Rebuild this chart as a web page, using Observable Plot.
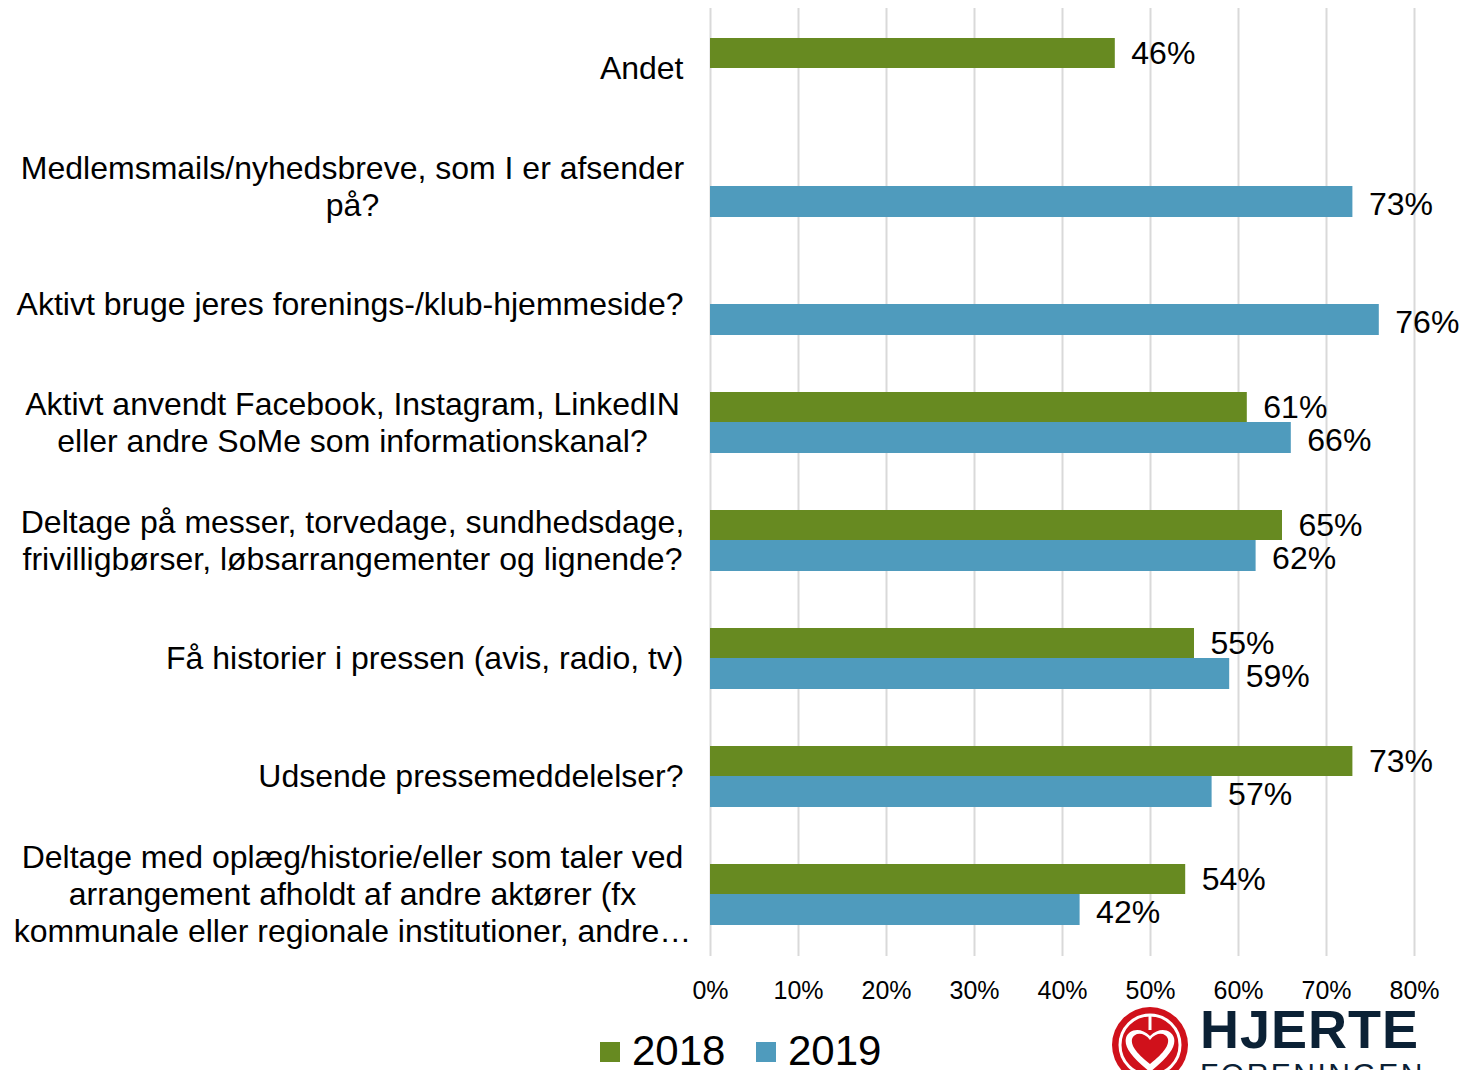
<!DOCTYPE html>
<html>
<head>
<meta charset="utf-8">
<script src="https://cdn.jsdelivr.net/npm/d3@7"></script>
<script src="https://cdn.jsdelivr.net/npm/@observablehq/plot@0.6"></script>
<style>
  html, body { margin: 0; padding: 0; background: #fff; }
  #wrap { position: relative; width: 1481px; height: 1070px; overflow: hidden; font-family: "Liberation Sans", Arial, sans-serif; }
  #legend { position: absolute; left: 0; top: 1020px; width: 1000px; height: 50px; }
  .sw { position: absolute; width: 20px; height: 20px; top: 22px; }
  .lt { position: absolute; top: 14px; font-size: 42px; line-height: 34px; color: #000; }
  #logo { position: absolute; left: 1100px; top: 1000px; }
</style>
</head>
<body>
<div id="wrap">
  <div id="chart"></div>
  <div id="legend"></div>
  <div id="logo"></div>
</div>
<script>
const categories = [
  "Andet",
  "Medlemsmails/nyhedsbreve, som I er afsender på?",
  "Aktivt bruge jeres forenings-/klub-hjemmeside?",
  "Aktivt anvendt Facebook, Instagram, LinkedIN eller andre SoMe som informationskanal?",
  "Deltage på messer, torvedage, sundhedsdage, frivilligbørser, løbsarrangementer og lignende?",
  "Få historier i pressen (avis, radio, tv)",
  "Udsende pressemeddelelser?",
  "Deltage med oplæg/historie/eller som taler ved arrangement afholdt af andre aktører (fx kommunale eller regionale institutioner, andre…"
];
const categoryLabels = [
  "Andet",
  "Medlemsmails/nyhedsbreve, som I er afsender\npå?",
  "Aktivt bruge jeres forenings-/klub-hjemmeside?",
  "Aktivt anvendt Facebook, Instagram, LinkedIN\neller andre SoMe som informationskanal?",
  "Deltage på messer, torvedage, sundhedsdage,\nfrivilligbørser, løbsarrangementer og lignende?",
  "Få historier i pressen (avis, radio, tv)",
  "Udsende pressemeddelelser?",
  "Deltage med oplæg/historie/eller som taler ved\narrangement afholdt af andre aktører (fx\nkommunale eller regionale institutioner, andre…"
];
const series = ["2018", "2019"];
const values2018 = [46, null, null, 61, 65, 55, 73, 54];
const values2019 = [null, 73, 76, 66, 62, 59, 57, 42];
const xTicks = [0, 10, 20, 30, 40, 50, 60, 70, 80];
const colors = ["#678A21", "#4F9BBD"];

const d18 = categories.map((c, i) => ({cat: c, year: series[0], v: values2018[i]})).filter(d => d.v != null);
const d19 = categories.map((c, i) => ({cat: c, year: series[1], v: values2019[i]})).filter(d => d.v != null);
const labels = categories.map((c, i) => ({cat: c, label: categoryLabels[i], multi: categoryLabels[i].includes("\n")}));

const font = "'Liberation Sans', Arial, sans-serif";

const chart = Plot.plot({
  width: 1481,
  height: 1010,
  marginLeft: 710,
  marginRight: 67,
  marginTop: 8,
  marginBottom: 54,
  style: {fontFamily: font, color: "#000", background: "#fff"},
  x: {domain: [0, 80], axis: null, label: null},
  y: {domain: categories, padding: 0, axis: null, label: null},
  color: {domain: series, range: colors},
  marks: [
    Plot.gridX(xTicks, {stroke: "#d9d9d9", strokeOpacity: 1, strokeWidth: 2}),
    Plot.barX(d18, {x: "v", y: "cat", fill: "year", insetTop: 28, insetBottom: 60}),
    Plot.barX(d19, {x: "v", y: "cat", fill: "year", insetTop: 58, insetBottom: 29}),
    Plot.text(d18, {x: "v", y: "cat", text: d => d.v + "%", dx: 16, dy: -16, textAnchor: "start", fontSize: 32, fill: "#000"}),
    Plot.text(d19, {x: "v", y: "cat", text: d => d.v + "%", dx: 16, dy: 17, textAnchor: "start", fontSize: 32, fill: "#000"}),
    Plot.text(labels.filter(d => !d.multi), {y: "cat", text: "label", frameAnchor: "left", textAnchor: "end", dx: -27, dy: -1, fontSize: 32, fill: "#000"}),
    Plot.text(labels.filter(d => d.multi), {y: "cat", text: "label", frameAnchor: "left", textAnchor: "middle", dx: -358, dy: -2, fontSize: 32, lineHeight: 1.15, fill: "#000"}),
    Plot.axisX(xTicks, {anchor: "bottom", label: null, tickSize: 0, tickPadding: 25, fontSize: 25, tickFormat: d => d + "%", fill: "#000"})
  ]
});
document.getElementById("chart").appendChild(chart);

// Legend
const legend = document.getElementById("legend");
const legendPos = [[600, 632], [756, 788]];
series.forEach((s, i) => {
  const sw = document.createElement("div");
  sw.className = "sw";
  sw.style.left = legendPos[i][0] + "px";
  sw.style.background = colors[i];
  legend.appendChild(sw);
  const t = document.createElement("div");
  t.className = "lt";
  t.style.left = legendPos[i][1] + "px";
  t.textContent = s;
  legend.appendChild(t);
});

// Logo
document.getElementById("logo").innerHTML = `
<svg width="381" height="70" xmlns="http://www.w3.org/2000/svg">
  <circle cx="50" cy="45" r="38" fill="#D0111B"/>
  <circle cx="50" cy="45" r="30" fill="none" stroke="#fff" stroke-width="3"/>
  <line x1="50" y1="15" x2="50" y2="30" stroke="#fff" stroke-width="3"/>
  <path d="M50 72 C30 56 24 46 26 38 C28 30 40 26 50 36 C60 26 72 30 74 38 C76 46 70 56 50 72 Z" fill="#fff"/>
  <path d="M50 64 C35 52 31 45 32 39 C34 33 43 31 50 40 C57 31 66 33 68 39 C69 45 65 52 50 64 Z" fill="#D0111B"/>
  <text x="100" y="48" font-family="'Liberation Sans', Arial, sans-serif" font-weight="bold" font-size="54" letter-spacing="1" fill="#0B2135">HJERTE</text>
  <text x="100" y="84" font-family="'Liberation Sans', Arial, sans-serif" font-size="30" letter-spacing="2.5" fill="#0B2135">FORENINGEN</text>
</svg>`;
</script>
</body>
</html>
